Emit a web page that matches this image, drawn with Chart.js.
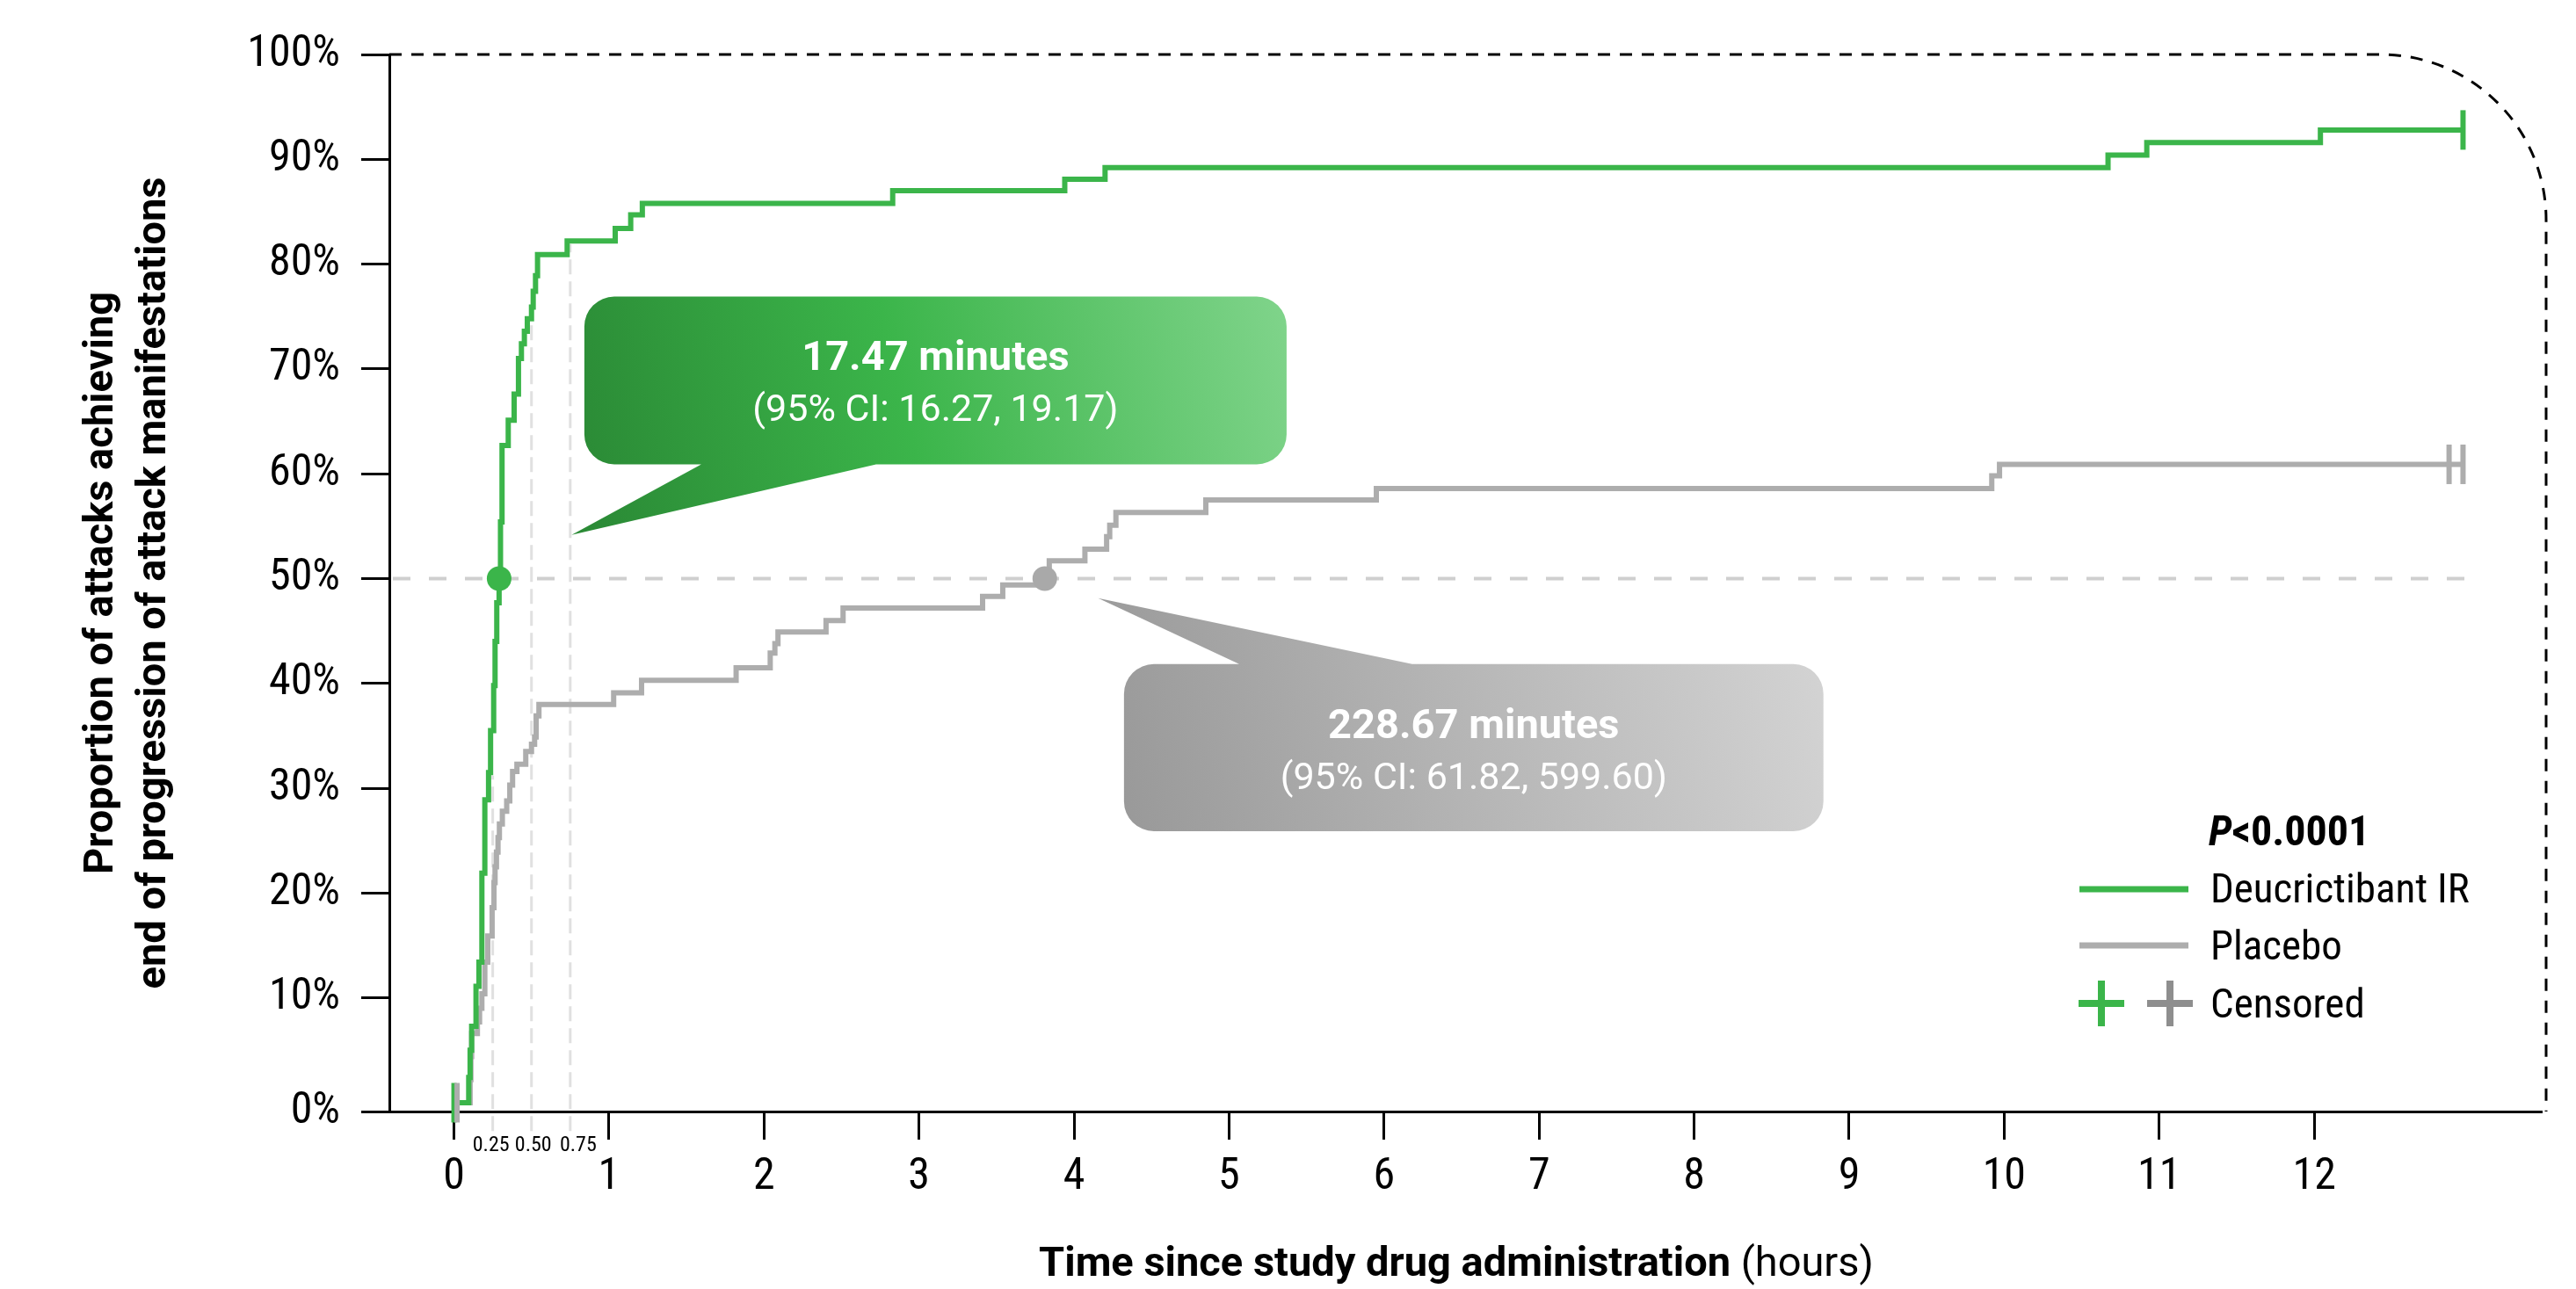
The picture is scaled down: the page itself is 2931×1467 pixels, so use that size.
<!DOCTYPE html>
<html><head><meta charset="utf-8">
<script src="https://cdn.jsdelivr.net/npm/chart.js@4/dist/chart.umd.min.js"></script>
<style>
html,body{margin:0;padding:0;background:#fff;}
#wrap{position:relative;width:2931px;height:1467px;}
</style></head><body>
<div id="wrap"><canvas id="c" width="2931" height="1467"></canvas></div>
<script>
// ---------------- data ----------------
const seriesNames = ['Deucrictibant IR', 'Placebo'];
const xTickValues = [0,1,2,3,4,5,6,7,8,9,10,11,12];
const yTickValues = [0,10,20,30,40,50,60,70,80,90,100];
const minorTickValues = [0.25, 0.5, 0.75];
const minorTickLabels = ['0.25', '0.50', '0.75'];
const minorLineTops = [31.2, 74.5, 81.9];

const deucTimes = [0, 0.095, 0.104, 0.114, 0.142, 0.161, 0.18, 0.199, 0.223, 0.236, 0.256, 0.265, 0.276, 0.291, 0.30, 0.31, 0.35, 0.388, 0.416, 0.435, 0.454, 0.473, 0.50, 0.511, 0.526, 0.539, 0.73, 1.04, 1.14, 1.215, 2.83, 3.94, 4.20, 10.67, 10.92, 12.04, 12.96];
const deucPct   = [0, 2.4, 5.0, 7.3, 11.1, 13.4, 21.9, 28.9, 31.5, 35.5, 39.8, 44.0, 47.7, 50.6, 55.4, 62.7, 65.1, 67.6, 71.0, 72.4, 73.6, 74.8, 75.9, 77.4, 78.9, 80.9, 82.2, 83.4, 84.7, 85.8, 87.0, 88.1, 89.2, 90.4, 91.6, 92.8, 92.8];

const placTimes = [0, 0.104, 0.109, 0.114, 0.151, 0.165, 0.18, 0.199, 0.218, 0.246, 0.258, 0.265, 0.274, 0.284, 0.293, 0.312, 0.34, 0.36, 0.378, 0.406, 0.463, 0.50, 0.52, 0.53, 0.548, 1.03, 1.21, 1.82, 2.04, 2.07, 2.09, 2.40, 2.51, 3.41, 3.54, 3.811, 3.84, 4.07, 4.21, 4.23, 4.27, 4.85, 5.95, 9.92, 9.97, 12.96];
const placPct   = [0, 2.2, 4.4, 6.6, 7.7, 9.0, 10.4, 13.4, 15.9, 18.6, 21.0, 22.5, 23.9, 25.3, 26.6, 27.8, 28.8, 30.3, 31.6, 32.3, 33.5, 34.2, 34.9, 36.9, 38.0, 39.1, 40.3, 41.5, 42.9, 43.8, 44.9, 46.0, 47.2, 48.3, 49.4, 50.6, 51.7, 52.8, 54.0, 55.1, 56.3, 57.5, 58.6, 59.8, 60.9, 60.9];

const deucCensorTimes = [0, 12.96];
const deucCensorPct   = [0, 92.8];
const placCensorTimes = [0.02, 12.87, 12.96];
const placCensorPct   = [0, 60.9, 60.9];

const medianMinutes = [17.47, 228.67];
const medianCILow   = [16.27, 61.82];
const medianCIHigh  = [19.17, 599.60];
const medianLevel = 50;
const pValueLabel = '<0.0001';
const censoredLabel = 'Censored';
const xTitleBold = 'Time since study drug administration';
const xTitleRest = ' (hours)';
const yTitleLines = ['Proportion of attacks achieving', 'end of progression of attack manifestations'];

// ---------------- styles ----------------
const FONT = 'Roboto';
const CFONT = '"Roboto Condensed", Roboto';
const GREEN = '#3bb54a';
const GRAY = '#adadad';
const GRAY_MARK = '#8e8e8e';
const minorLabelNudge = [-2, 2, 9];

const pts = (xs, ys) => xs.map((x, i) => ({x, y: ys[i]}));
const fmt2 = v => v.toFixed(2);

const datasets = [
  { label: 'medianDeuc', type: 'scatter', data: [{x: medianMinutes[0] / 60, y: medianLevel}], pointRadius: 14, pointBackgroundColor: GREEN, pointBorderWidth: 0, order: 0 },
  { label: 'medianPlac', type: 'scatter', data: [{x: medianMinutes[1] / 60, y: medianLevel}], pointRadius: 14, pointBackgroundColor: '#a9a9a9', pointBorderWidth: 0, order: 1 },
  { label: 'censorPlac', type: 'scatter', data: pts(placCensorTimes, placCensorPct), pointStyle: 'line', rotation: 90, pointRadius: 22.5, borderColor: GRAY, pointBorderColor: GRAY, pointBorderWidth: 6, clip: false, order: 2 },
  { label: 'censorDeuc', type: 'scatter', data: pts(deucCensorTimes, deucCensorPct), pointStyle: 'line', rotation: 90, pointRadius: 22.5, borderColor: GREEN, pointBorderColor: GREEN, pointBorderWidth: 6, clip: false, order: 3 },
  { label: seriesNames[0], data: pts(deucTimes, deucPct), stepped: true, borderColor: GREEN, borderWidth: 6, pointRadius: 0, fill: false, borderJoinStyle: 'miter', order: 4 },
  { label: seriesNames[1], data: pts(placTimes, placPct), stepped: true, borderColor: GRAY, borderWidth: 6, pointRadius: 0, fill: false, borderJoinStyle: 'miter', order: 5 },
  { label: 'ref50', data: [{x: -0.417, y: medianLevel}, {x: 13.0, y: medianLevel}], borderColor: '#cfcfcf', borderWidth: 4, borderDash: [20, 21], borderDashOffset: -4, pointRadius: 0, order: 6 }
];
minorTickValues.forEach((v, i) => {
  datasets.push({ label: 'minor' + i, data: [{x: v, y: -2.7}, {x: v, y: minorLineTops[i]}], borderColor: '#e0e0e0', borderWidth: 3, borderDash: [17, 8], pointRadius: 0, clip: false, order: 7 });
});

// ---------------- decorations ----------------
function roundedCallout(ctx, l, t, r, b, rad, tip, baseL, baseR, onTop) {
  ctx.beginPath();
  ctx.moveTo(l + rad, t);
  if (onTop) { ctx.lineTo(baseL, t); ctx.lineTo(tip[0], tip[1]); ctx.lineTo(baseR, t); }
  ctx.lineTo(r - rad, t);
  ctx.arcTo(r, t, r, t + rad, rad);
  ctx.lineTo(r, b - rad);
  ctx.arcTo(r, b, r - rad, b, rad);
  if (!onTop) { ctx.lineTo(baseR, b); ctx.lineTo(tip[0], tip[1]); ctx.lineTo(baseL, b); }
  ctx.lineTo(l + rad, b);
  ctx.arcTo(l, b, l, b - rad, rad);
  ctx.lineTo(l, t + rad);
  ctx.arcTo(l, t, l + rad, t, rad);
  ctx.closePath();
}

const decor = {
  id: 'decor',
  beforeDatasetsDraw(chart) {
    const {ctx, chartArea, scales: {y}} = chart;
    const top = y.getPixelForValue(100);
    const right = chartArea.right + 6;
    const bottom = chartArea.bottom;
    const rad = 188;
    ctx.save();
    ctx.strokeStyle = '#000';
    ctx.lineWidth = 3;
    ctx.setLineDash([14, 11]);
    ctx.beginPath();
    ctx.moveTo(chartArea.left, top);
    ctx.lineTo(right - rad, top);
    ctx.arcTo(right, top, right, top + rad, rad);
    ctx.lineTo(right, bottom);
    ctx.stroke();
    ctx.restore();
  },
  afterDatasetsDraw(chart) {
    const {ctx, scales: {x, y}} = chart;
    const X = v => x.getPixelForValue(v), Y = v => y.getPixelForValue(v);
    ctx.save();
    // green callout (data-space geometry)
    let l = X(0.841), r = X(5.371), t = Y(76.9), b = Y(60.9);
    let g = ctx.createLinearGradient(l, b, r, t);
    g.addColorStop(0, '#2b8b36'); g.addColorStop(0.45, '#3bb54a'); g.addColorStop(1, '#80d48b');
    roundedCallout(ctx, l, t, r, b, 34, [X(0.759), Y(54.17)], X(1.595), X(2.723), false);
    ctx.fillStyle = g; ctx.fill();
    ctx.fillStyle = '#fff'; ctx.textAlign = 'center'; ctx.textBaseline = 'middle';
    let cx = (l + r) / 2, cy = (t + b) / 2;
    ctx.font = 'bold 47px ' + FONT;
    ctx.fillText(fmt2(medianMinutes[0]) + ' minutes', cx, cy - 24);
    ctx.font = '43px ' + FONT;
    ctx.fillText('(95% CI: ' + fmt2(medianCILow[0]) + ', ' + fmt2(medianCIHigh[0]) + ')', cx, cy + 35);
    // gray callout
    l = X(4.322); r = X(8.834); t = Y(41.84); b = Y(25.91);
    g = ctx.createLinearGradient(l, b, r, t);
    g.addColorStop(0, '#999999'); g.addColorStop(1, '#d3d3d3');
    roundedCallout(ctx, l, t, r, b, 34, [X(4.155), Y(48.13)], X(5.065), X(6.181), true);
    ctx.fillStyle = g; ctx.fill();
    ctx.fillStyle = '#fff';
    cx = (l + r) / 2; cy = (t + b) / 2;
    ctx.font = 'bold 47px ' + FONT;
    ctx.fillText(fmt2(medianMinutes[1]) + ' minutes', cx, cy - 23);
    ctx.font = '43px ' + FONT;
    ctx.fillText('(95% CI: ' + fmt2(medianCILow[1]) + ', ' + fmt2(medianCIHigh[1]) + ')', cx, cy + 36);
    ctx.restore();
  },
  afterDraw(chart) {
    const {ctx, chartArea, scales: {x}} = chart;
    ctx.save();
    // minor tick labels
    ctx.fillStyle = '#000'; ctx.textAlign = 'center'; ctx.textBaseline = 'middle';
    ctx.font = '24px ' + CFONT;
    minorTickValues.forEach((v, i) => ctx.fillText(minorTickLabels[i], x.getPixelForValue(v) + minorLabelNudge[i], chartArea.bottom + 39));
    // x title, mixed weight
    ctx.textAlign = 'left'; ctx.textBaseline = 'alphabetic';
    ctx.font = 'bold 47px ' + FONT;
    const w1 = ctx.measureText(xTitleBold).width;
    ctx.font = '47px ' + FONT;
    const w2 = ctx.measureText(xTitleRest).width;
    const x0 = (chartArea.left + chartArea.right) / 2 - 10 - (w1 + w2) / 2;
    ctx.font = 'bold 47px ' + FONT; ctx.fillText(xTitleBold, x0, 1452);
    ctx.font = '47px ' + FONT; ctx.fillText(xTitleRest, x0 + w1, 1452);
    // legend
    const lx = chartArea.right - 525;
    ctx.font = 'italic bold 48px ' + CFONT;
    ctx.fillText('P', lx + 147, 962);
    const wp = ctx.measureText('P').width;
    ctx.font = 'bold 48px ' + CFONT;
    ctx.fillText(pValueLabel, lx + 147 + wp, 962);
    ctx.lineCap = 'butt';
    ctx.lineWidth = 7;
    ctx.strokeStyle = GREEN; ctx.beginPath(); ctx.moveTo(lx, 1012); ctx.lineTo(lx + 124, 1012); ctx.stroke();
    ctx.strokeStyle = GRAY; ctx.beginPath(); ctx.moveTo(lx, 1076); ctx.lineTo(lx + 124, 1076); ctx.stroke();
    ctx.lineWidth = 8;
    [[lx + 25, GREEN], [lx + 103, GRAY_MARK]].forEach(([px, col]) => {
      ctx.strokeStyle = col; ctx.beginPath();
      ctx.moveTo(px - 26, 1142); ctx.lineTo(px + 26, 1142);
      ctx.moveTo(px, 1116); ctx.lineTo(px, 1168); ctx.stroke();
    });
    ctx.font = '47px ' + CFONT;
    ctx.fillText(seriesNames[0], lx + 149, 1027);
    ctx.fillText(seriesNames[1], lx + 149, 1092);
    ctx.fillText(censoredLabel, lx + 149, 1158);
    ctx.restore();
  }
};

const chart = new Chart(document.getElementById('c').getContext('2d'), {
  type: 'line',
  data: { datasets },
  plugins: [decor],
  options: {
    responsive: false, animation: false, devicePixelRatio: 1,
    layout: { padding: { top: 62, right: 40, bottom: 0, left: 0 } },
    plugins: { legend: { display: false }, tooltip: { enabled: false }, title: { display: false } },
    elements: { line: { tension: 0, borderCapStyle: 'butt' } },
    scales: {
      x: {
        type: 'linear', min: -0.417, max: 13.462,
        afterBuildTicks: s => { s.ticks = xTickValues.map(v => ({value: v})); },
        afterFit: s => { s.height = 202; },
        grid: { drawOnChartArea: false, drawTicks: true, tickLength: 32, color: '#000', lineWidth: 3 },
        border: { display: true, color: '#000', width: 3 },
        ticks: { font: { family: CFONT, size: 50 }, color: '#000', padding: 13, maxRotation: 0, autoSkip: false, callback: v => String(v) }
      },
      y: {
        type: 'linear', min: -0.84, max: 100,
        afterBuildTicks: s => { s.ticks = yTickValues.map(v => ({value: v === 0 ? -0.84 : v})); },
        afterFit: s => { s.width = 443; },
        grid: { drawOnChartArea: false, drawTicks: true, tickLength: 32, color: '#000', lineWidth: 3 },
        border: { display: true, color: '#000', width: 3 },
        ticks: { font: { family: CFONT, size: 50 }, color: '#000', padding: 24, autoSkip: false, callback: v => (v < 0 ? 0 : Math.round(v)) + '%' },
        title: { display: true, text: yTitleLines, color: '#000', font: { family: FONT, size: 47, weight: 'bold', lineHeight: '60px' }, padding: { top: 86, bottom: 0 } }
      }
    }
  }
});
</script>
</body></html>
